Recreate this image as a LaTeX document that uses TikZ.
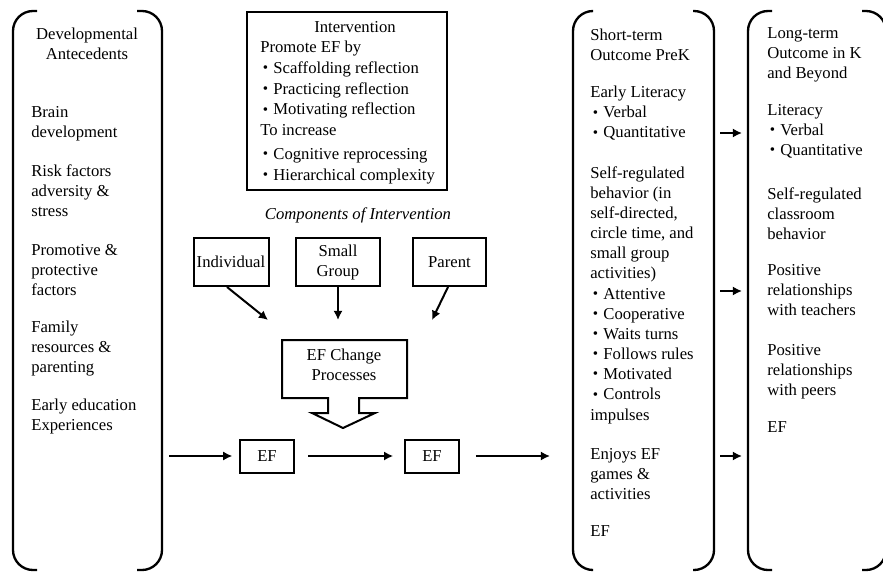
\documentclass[tikz,border=0pt]{standalone}
\usepackage{fontspec}
\setmainfont{Liberation Serif}
\usetikzlibrary{arrows.meta,positioning}
\newcommand{\bul}{\hspace{1.5pt}\raisebox{0.1ex}{\fontsize{9}{9}\selectfont•}\hspace{3.2pt}}

\begin{document}
\begin{tikzpicture}[x=0.6pt, y=-0.6pt,
    every node/.style = {font=\fontsize{10}{12}\selectfont, inner sep=0pt},
    txt/.style = {align=left, anchor=north west},
    box/.style = {draw, line width=1.2pt, align=center},
    arr/.style = {-{Latex[length=5.5pt,width=5.5pt]}, line width=1.2pt},
    brack/.style = {line width=1.4pt, rounded corners=12pt}]
  \useasboundingbox (0,0) rectangle (883,573);

  % brackets
  \draw[brack] (37,11) -- (13,11) -- (13,570) -- (37,570);
  \draw[brack] (137,11) -- (162,11) -- (162,570) -- (137,570);
  \draw[brack] (593,11) -- (573,11) -- (573,570) -- (593,570);
  \draw[brack] (693,11) -- (714,11) -- (714,570) -- (693,570);
  \draw[brack] (772,11) -- (748,11) -- (748,570) -- (772,570);
  \draw[brack] (862,11) -- (886,11) -- (886,570) -- (862,570);

  % developmental antecedents
  \node[align=center, anchor=north] (dev) at (87,28) {Developmental\\Antecedents};
  \node[txt] (brain) at (31,106) {Brain\\development};
  \node[txt] (risk) at (31,164) {Risk factors\\adversity \&\\stress};
  \node[txt] (prom) at (31,244) {Promotive \&\\protective\\factors};
  \node[txt] (fam) at (31,321) {Family\\resources \&\\parenting};
  \node[txt] (early) at (31,399) {Early education\\Experiences};

  % intervention
  \node[box, minimum width=120pt, minimum height=106.8pt] (intv) at (347,101) {};
  \node (intvt) at (355,27) {Intervention};
  \node[txt, font=\fontsize{10}{12.4}\selectfont] (intvl) at (260,41)
    {Promote EF by\\\bul Scaffolding reflection\\\bul Practicing reflection\\\bul Motivating reflection\\To increase\\[2pt]\bul Cognitive reprocessing\\\bul Hierarchical complexity};

  \node[font=\fontsize{10}{12}\itshape] (comp) at (358,215) {Components of Intervention};
  \node[box, minimum width=45pt, minimum height=28.8pt] (ind) at (231,262) {Individual};
  \node[box, minimum width=50.4pt, minimum height=28.8pt] (sg) at (338,262) {Small\\Group};
  \node[box, minimum width=43.8pt, minimum height=28.8pt] (par) at (449.5,262) {Parent};

  \coordinate (toind) at (268,320);
  \coordinate (tosg) at (338,320);
  \coordinate (topar) at (432,320);
  \draw[arr] (227,287) -- (toind);
  \draw[arr] (sg.south) -- (tosg);
  \draw[arr] (448,287) -- (topar);

  \node[align=center] (ecp) at (344,365) {EF Change\\Processes};
  \draw[line width=1.2pt] (282,340) -- (407,340) -- (407,398) -- (359,398) -- (359,413)
    -- (375,413) -- (343,428) -- (312,413) -- (328,413) -- (328,398) -- (282,398) -- cycle;

  \node[box, minimum width=32.4pt, minimum height=19.8pt] (ef1) at (267,456) {EF};
  \node[box, minimum width=32.4pt, minimum height=19.8pt] (ef2) at (432,456) {EF};
  \coordinate (devout) at (169,456);
  \coordinate (shortin) at (550,456);
  \draw[arr, shorten >=4pt] (devout) -- (ef1);
  \draw[arr, shorten <=8pt, shorten >=6.5pt] (ef1) -- (ef2);
  \draw[arr, shorten <=9.5pt] (ef2) -- (shortin);

  % short-term outcome
  \node[txt] (short) at (590,29) {Short-term\\Outcome PreK};
  \node[txt] (lit3) at (590,86) {Early Literacy\\\bul Verbal\\\bul Quantitative};
  \node[txt, font=\fontsize{10}{12.1}\selectfont] (self3) at (590,166)
    {Self-regulated\\behavior (in\\self-directed,\\circle time, and\\small group\\activities)\\\bul Attentive\\\bul Cooperative\\\bul Waits turns\\\bul Follows rules\\\bul Motivated\\\bul Controls\\impulses};
  \node[txt] (enj3) at (590,448) {Enjoys EF\\games \&\\activities};
  \node[txt] (ef3) at (590,525) {EF};

  % long-term outcome
  \node[txt] (long) at (767,27) {Long-term\\Outcome in K\\and Beyond};
  \node[txt] (lit4) at (767,104) {Literacy\\\bul Verbal\\\bul Quantitative};
  \node[txt] (self4) at (767,187) {Self-regulated\\classroom\\behavior};
  \node[txt] (tea4) at (767,264) {Positive\\relationships\\with teachers};
  \node[txt] (peer4) at (767,344) {Positive\\relationships\\with peers};
  \node[txt] (ef4) at (767,421) {EF};

  \coordinate (a1) at (720,133); \coordinate (b1) at (742,133);
  \coordinate (a2) at (720,291); \coordinate (b2) at (742,291);
  \coordinate (a3) at (720,456); \coordinate (b3) at (742,456);
  \draw[arr] (a1) -- (b1);
  \draw[arr] (a2) -- (b2);
  \draw[arr] (a3) -- (b3);
\end{tikzpicture}
\end{document}
